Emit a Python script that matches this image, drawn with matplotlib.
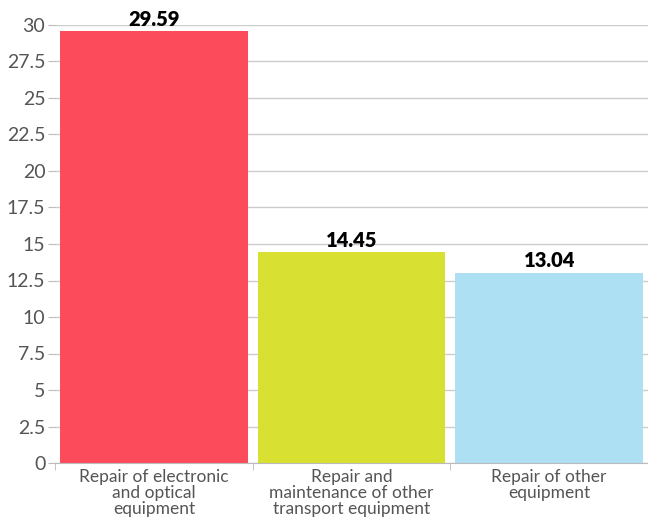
import matplotlib
matplotlib.use("Agg")
import matplotlib.pyplot as plt
import numpy as np

# data
categories = ["Repair of electronic\nand optical\nequipment",
              "Repair and\nmaintenance of other\ntransport equipment",
              "Repair of other\nequipment"]
values = [29.59, 14.45, 13.04]
colors = ["#fc4c5c", "#d8e031", "#ade0f2"]
yticks = np.arange(0, 30.1, 2.5)

plt.rcParams["font.family"] = ["Lato", "DejaVu Sans"]

fig = plt.figure(figsize=(6.48, 5.25), dpi=100)
ax = fig.add_axes([55/648, 1 - 463/525, 1 - 55/648, (463 - 25)/525])

x = np.arange(len(values))
ax.bar(x, values, width=0.95, color=colors, zorder=2)
for xi, v in zip(x, values):
    ax.text(xi, v + 0.15, "{:.2f}".format(v), ha="center", va="bottom",
            fontsize=14.5, fontweight="heavy", color="black", zorder=3)

ax.set_xlim(-0.5, len(values) - 0.5)
ax.set_ylim(0, 30)
ax.set_yticks(yticks)
ax.set_yticklabels(["{:g}".format(t) for t in yticks])
ax.yaxis.grid(True, color="#cccccc", linewidth=1, zorder=0)
ax.set_axisbelow(True)

ax.set_xticks(x)
ax.set_xticklabels(categories, fontsize=12.5, color="#555555", linespacing=1.0)
ax.set_xticks(np.arange(-0.5, len(values), 1), minor=True)
ax.tick_params(axis="x", which="major", length=0, pad=4)
ax.tick_params(axis="x", which="minor", length=5, color="#bbbbbb")
ax.tick_params(axis="y", length=5, color="#bbbbbb", labelsize=14, labelcolor="#555555", pad=2)

for s in ["top", "right", "left"]:
    ax.spines[s].set_visible(False)
ax.spines["bottom"].set_color("#bbbbbb")

fig.savefig("out.png", dpi=100)
